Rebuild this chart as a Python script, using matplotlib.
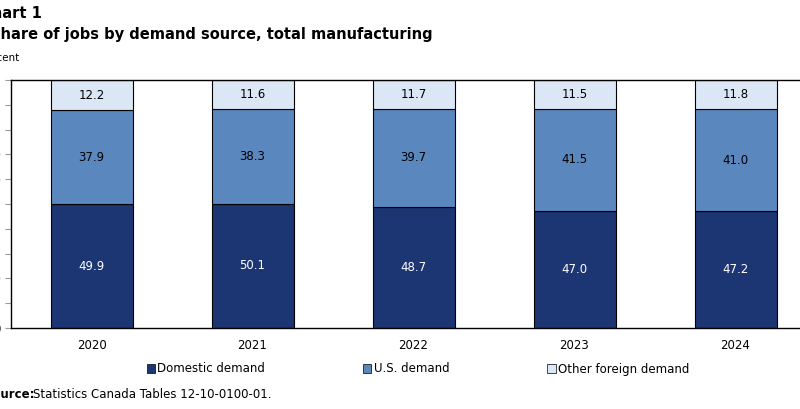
import matplotlib
matplotlib.use("Agg")
import matplotlib.pyplot as plt
from matplotlib.patches import Patch

years = ["2020", "2021", "2022", "2023", "2024"]
domestic = [49.9, 50.1, 48.7, 47.0, 47.2]
us = [37.9, 38.3, 39.7, 41.5, 41.0]
other = [12.2, 11.6, 11.7, 11.5, 11.8]
labels = ["Domestic demand", "U.S. demand", "Other foreign demand"]
colors = ["#1c3573", "#5b87bf", "#dbe7f5"]
yticks = list(range(0, 101, 10))

plt.rcParams['font.family'] = ['DejaVu Sans']
W, H = 800, 409
fig = plt.figure(figsize=(8, 4.09), dpi=100)
ax = fig.add_axes([11/W, 1-328/H, (816-11)/W, (328-80)/H])
x = range(len(years))
bw = 82/161
ax.bar(x, domestic, bw, color=colors[0], edgecolor="black", lw=0.8)
ax.bar(x, us, bw, bottom=domestic, color=colors[1], edgecolor="black", lw=0.8)
bot = [d+u for d, u in zip(domestic, us)]
ax.bar(x, other, bw, bottom=bot, color=colors[2], edgecolor="black", lw=0.8)
for i in x:
    ax.text(i, domestic[i]/2, f"{domestic[i]:.1f}", ha="center", va="center", color="white", fontsize=8.5)
    ax.text(i, domestic[i]+us[i]/2, f"{us[i]:.1f}", ha="center", va="center", color="black", fontsize=8.5)
    ax.text(i, bot[i]+other[i]/2, f"{other[i]:.1f}", ha="center", va="center", color="black", fontsize=8.5)
ax.set_xlim(-0.5, 4.5)
ax.set_ylim(0, 100)
ax.set_yticks(yticks)
ax.set_yticklabels([str(t) for t in yticks], fontsize=8.5)
ax.set_xticks(list(x))
ax.set_xticklabels(years, fontsize=8.5)
ax.tick_params(axis="x", length=0, pad=8)
ax.tick_params(axis="y", length=4, color="#999999", direction="out")
for s in ax.spines.values():
    s.set_color("black"); s.set_linewidth(1)

fig.text(-19/W, 1-14/H, "Chart 1", fontsize=10.5, fontweight="bold", va="center")
fig.text(-10/W, 1-34/H, "Share of jobs by demand source, total manufacturing", fontsize=10.5, fontweight="bold", va="center")
fig.text(-20/W, 1-58/H, "Percent", fontsize=7.5, va="center")
handles = [Patch(facecolor=c, edgecolor="black", lw=0.5) for c in colors]
fig.legend(handles, labels, loc="center", bbox_to_anchor=(418/W, 1-369/H), ncol=3,
           frameon=False, fontsize=8.5, handlelength=0.7, handleheight=0.7,
           handletextpad=0.2, columnspacing=8.3)
fig.text(-16/W, 1-395/H, "Source:", fontsize=8.5, fontweight="bold", va="center")
fig.text(33/W, 1-395/H, "Statistics Canada Tables 12-10-0100-01.", fontsize=8.5, va="center")
fig.savefig("out.png", dpi=100)
